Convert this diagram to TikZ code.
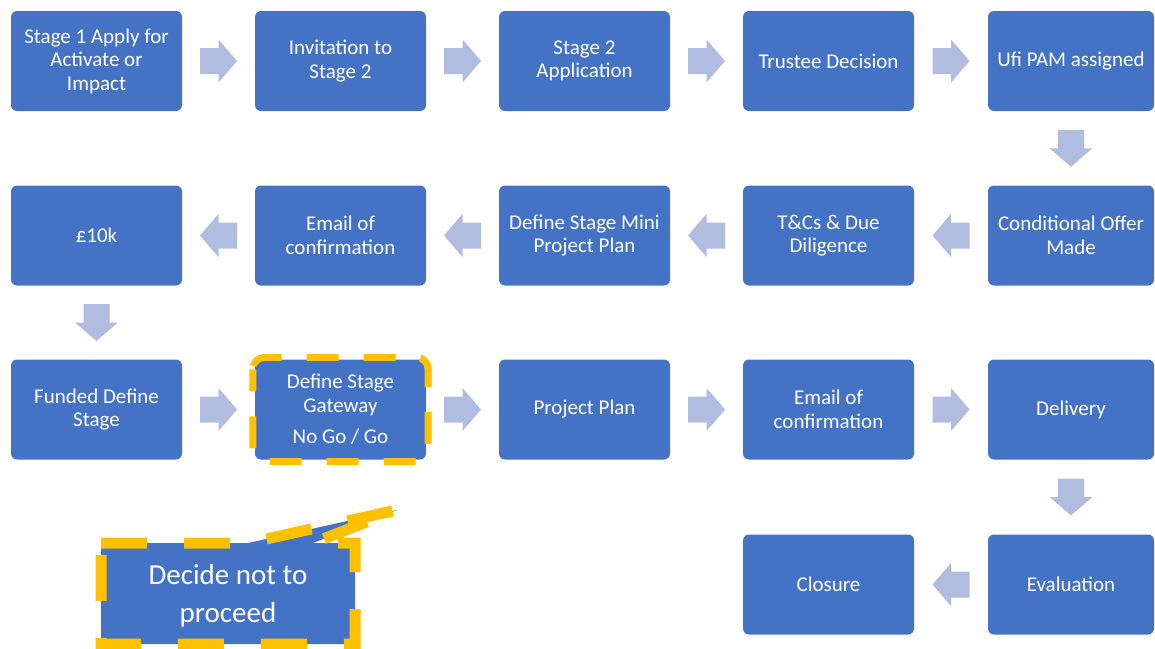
\documentclass[tikz,border=0pt]{standalone}
\usepackage{fontspec}
\setmainfont{Carlito}
\usetikzlibrary{calc}
\definecolor{boxblue}{HTML}{4472C4}
\definecolor{arrowblue}{HTML}{B0BDE0}
\definecolor{gold}{HTML}{FFC000}
\begin{document}
\begin{tikzpicture}[x=1pt,y=-1pt,
  stepbox/.style={fill=boxblue, rounded corners=6pt, minimum width=171pt,
    minimum height=100pt, inner sep=0pt, text=white, align=center,
    font=\fontsize{21}{23.5}\selectfont},
  lastbox/.style={stepbox, minimum width=166pt},
  rarrow/.pic={\fill[arrowblue] (-18.5,-13)--(0,-13)--(0,-21.5)--(18.5,0)--(0,21.5)--(0,13)--(-18.5,13)--cycle;},
  larrow/.pic={\fill[arrowblue] (18.5,-13)--(0,-13)--(0,-21.5)--(-18.5,0)--(0,21.5)--(0,13)--(18.5,13)--cycle;},
  darrow/.pic={\fill[arrowblue] (-13,-18.5)--(13,-18.5)--(13,0)--(21.5,0)--(0,18.5)--(-21.5,0)--(-13,0)--cycle;},
  golddash/.style={draw=gold, dash pattern=on 32pt off 25pt}
]
\useasboundingbox (0,0) rectangle (1155,648);
\begin{scope}
\clip (0,0) rectangle (1155,648);
% row 1
\node[stepbox] (s1) at (96.5,61) {Stage 1 Apply for\\Activate or\\Impact};
\node[stepbox] (inv) at (340.5,61) {Invitation to\\Stage 2};
\node[stepbox] (s2) at (584.5,61) {Stage 2\\Application};
\node[stepbox] (td) at (828.5,61) {Trustee Decision};
\node[lastbox] (pam) at (1071,61) {Ufi PAM assigned};
% row 2
\node[lastbox] (co) at (1071,235.5) {Conditional Offer\\Made};
\node[stepbox] (tc) at (828.5,235.5) {T\&Cs \& Due\\Diligence};
\node[stepbox] (mini) at (584.5,235.5) {Define Stage Mini\\Project Plan};
\node[stepbox] (em1) at (340.5,235.5) {Email of\\confirmation};
\node[stepbox] (tenk) at (96.5,235.5) {£10k};
% row 3
\node[stepbox] (fd) at (96.5,409.5) {Funded Define\\Stage};
\node[stepbox] (gw) at (340.5,409.5) {Define Stage\\Gateway\\[8pt]No Go / Go};
\node[stepbox] (pp) at (584.5,409.5) {Project Plan};
\node[stepbox] (em2) at (828.5,409.5) {Email of\\confirmation};
\node[lastbox] (del) at (1071,409.5) {Delivery};
% row 4
\node[lastbox] (ev) at (1071,584.5) {Evaluation};
\node[stepbox] (cl) at (828.5,584.5) {Closure};
% arrows
\pic at ($(s1.east)!0.5!(inv.west)$) {rarrow};
\pic at ($(inv.east)!0.5!(s2.west)$) {rarrow};
\pic at ($(s2.east)!0.5!(td.west)$) {rarrow};
\pic at ($(td.east)!0.5!(pam.west)$) {rarrow};
\pic at ($(pam.south)!0.5!(co.north)$) {darrow};
\pic at ($(co.west)!0.5!(tc.east)$) {larrow};
\pic at ($(tc.west)!0.5!(mini.east)$) {larrow};
\pic at ($(mini.west)!0.5!(em1.east)$) {larrow};
\pic at ($(em1.west)!0.5!(tenk.east)$) {larrow};
\pic at ($(tenk.south)!0.5!(fd.north)$) {darrow};
\pic at ($(fd.east)!0.5!(gw.west)$) {rarrow};
\pic at ($(gw.east)!0.5!(pp.west)$) {rarrow};
\pic at ($(pp.east)!0.5!(em2.west)$) {rarrow};
\pic at ($(em2.east)!0.5!(del.west)$) {rarrow};
\pic at ($(del.south)!0.5!(ev.north)$) {darrow};
\pic at ($(ev.west)!0.5!(cl.east)$) {larrow};
% gateway dashed outline
\draw[golddash, line width=7pt, rounded corners=12pt, dash phase=10pt]
  ($(gw.north west)+(-2,-2)$) rectangle ($(gw.south east)+(2,2)$);
% callout
\path[fill=boxblue] (101,543) -- (248,543) -- (397,510) -- (313,543) -- (355,543)
  -- (355,644) -- (101,644) -- cycle;
\draw[draw=gold, line width=11pt, dash pattern=on 46pt off 37pt]
  (101,543) -- (248,543) -- (397,510) -- (313,543) -- (355,543)
  -- (355,644) -- (101,644) -- cycle;
\node[text=white, align=center, font=\fontsize{29}{38}\selectfont] (dn) at (228,596) {Decide not to\\proceed};
\end{scope}
\end{tikzpicture}
\end{document}
